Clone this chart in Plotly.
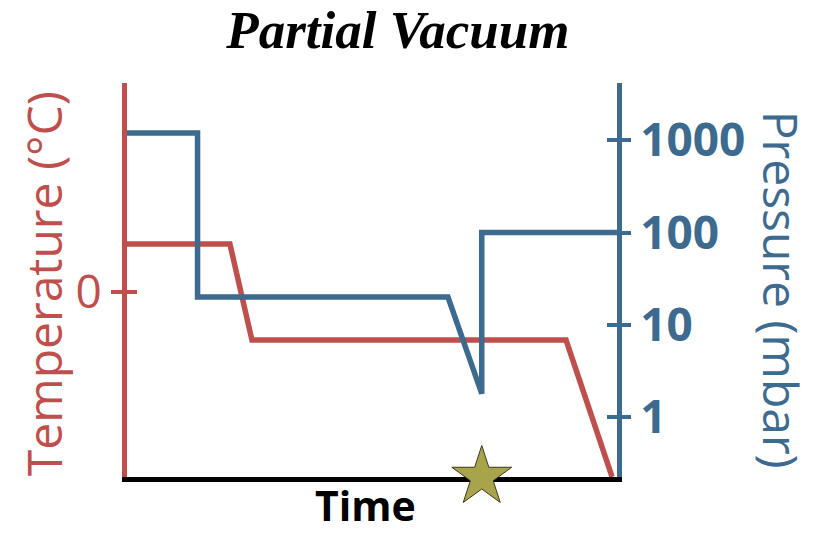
import plotly.graph_objects as go

# Temperature profile (arbitrary units, 0 marked on the axis)
temp_time = [0, 21, 25.5, 89.6, 99]
temp_vals = [10, 10, -10, -10, -38.5]

# Chamber pressure profile in mbar (log scale)
pres_time = [0, 14.4, 14.4, 65.5, 72.4, 72.4, 100]
pres_vals = [1200, 1200, 20, 20, 1.8, 100, 100]

# Event marker on the time axis
star_time = [72.4]

temp_ticks = [0]
temp_ticktext = ["0"]
pres_ticks = [1, 10, 100, 1000]
pres_ticktext = ["1", "10", "100", "1000"]

RED = "#BE4F4D"
BLUE = "#3D6A8F"
TEMP_RANGE = [-38.5, 43.5]
PRES_RANGE = [-0.648, 3.621]
SANS = "Open Sans"

fig = go.Figure()

fig.add_trace(go.Scatter(
    x=temp_time, y=temp_vals, mode="lines",
    line=dict(color=RED, width=5.5), xaxis="x", yaxis="y",
    showlegend=False, hoverinfo="skip",
))
fig.add_trace(go.Scatter(
    x=pres_time, y=pres_vals, mode="lines",
    line=dict(color=BLUE, width=5.5), xaxis="x", yaxis="y2",
    showlegend=False, hoverinfo="skip",
))
# inner halves of the crossing tick marks
fig.add_trace(go.Scatter(x=[], y=[], xaxis="x", yaxis="y3", showlegend=False))
fig.add_trace(go.Scatter(x=[], y=[], xaxis="x", yaxis="y4", showlegend=False))
fig.add_trace(go.Scatter(
    x=star_time, y=[TEMP_RANGE[0]], mode="markers", xaxis="x", yaxis="y3",
    marker=dict(symbol="star", size=45, color="#A8A44C",
                line=dict(color="#3A3A1C", width=1)),
    cliponaxis=False, showlegend=False, hoverinfo="skip",
))

fig.update_layout(
    width=817, height=533,
    margin=dict(l=127, r=200, t=83, b=56),
    paper_bgcolor="white", plot_bgcolor="white",
    title=dict(
        text="Partial Vacuum", x=0.487, xref="container", xanchor="center",
        y=0.944, yref="container", yanchor="middle",
        font=dict(family="Liberation Serif", size=53, color="black",
                  weight="bold", style="italic"),
    ),
    xaxis=dict(
        range=[0, 100], showline=True, linecolor="black", linewidth=5,
        showticklabels=False, ticks="", showgrid=False, zeroline=False,
        layer="below traces",
    ),
    yaxis=dict(
        range=TEMP_RANGE, showline=True, linecolor=RED, linewidth=5,
        tickvals=temp_ticks, ticktext=temp_ticktext, ticks="outside",
        ticklen=11, tickwidth=4, tickcolor=RED,
        tickfont=dict(family=SANS, size=46, color=RED),
        showgrid=False, zeroline=False, layer="below traces",
    ),
    yaxis2=dict(
        range=PRES_RANGE, type="log", overlaying="y", side="right",
        anchor="x", showline=True, linecolor=BLUE, linewidth=5,
        tickvals=pres_ticks, ticktext=pres_ticktext, ticks="outside",
        ticklen=9, tickwidth=4, tickcolor=BLUE,
        tickfont=dict(family=SANS, size=46, color=BLUE, weight="bold"),
        showgrid=False, zeroline=False,
    ),
    yaxis3=dict(
        range=TEMP_RANGE, overlaying="y", side="left", anchor="x",
        showline=False, tickvals=temp_ticks, ticks="inside", ticklen=10,
        tickwidth=4, tickcolor=RED, showticklabels=False,
        showgrid=False, zeroline=False,
    ),
    yaxis4=dict(
        range=PRES_RANGE, type="log", overlaying="y", side="right",
        anchor="x", showline=False, tickvals=pres_ticks, ticks="inside",
        ticklen=10, tickwidth=4, tickcolor=BLUE, showticklabels=False,
        showgrid=False, zeroline=False,
    ),
    annotations=[
        dict(text="Temperature (°C)", xref="paper", yref="paper",
             x=-0.169, y=0.49, xanchor="center", yanchor="middle",
             textangle=-90, showarrow=False,
             font=dict(family=SANS, size=48, color=RED)),
        dict(text="Pressure (mbar)", xref="paper", yref="paper",
             x=1.335, y=0.475, xanchor="center", yanchor="middle",
             textangle=90, showarrow=False,
             font=dict(family=SANS, size=48, color=BLUE)),
        dict(text="Time", xref="paper", yref="paper",
             x=0.486, y=-0.071, xanchor="center", yanchor="middle",
             showarrow=False, borderpad=0,
             font=dict(family=SANS, size=41, color="black", weight="bold")),
    ],
)

fig.write_html("out.html")
